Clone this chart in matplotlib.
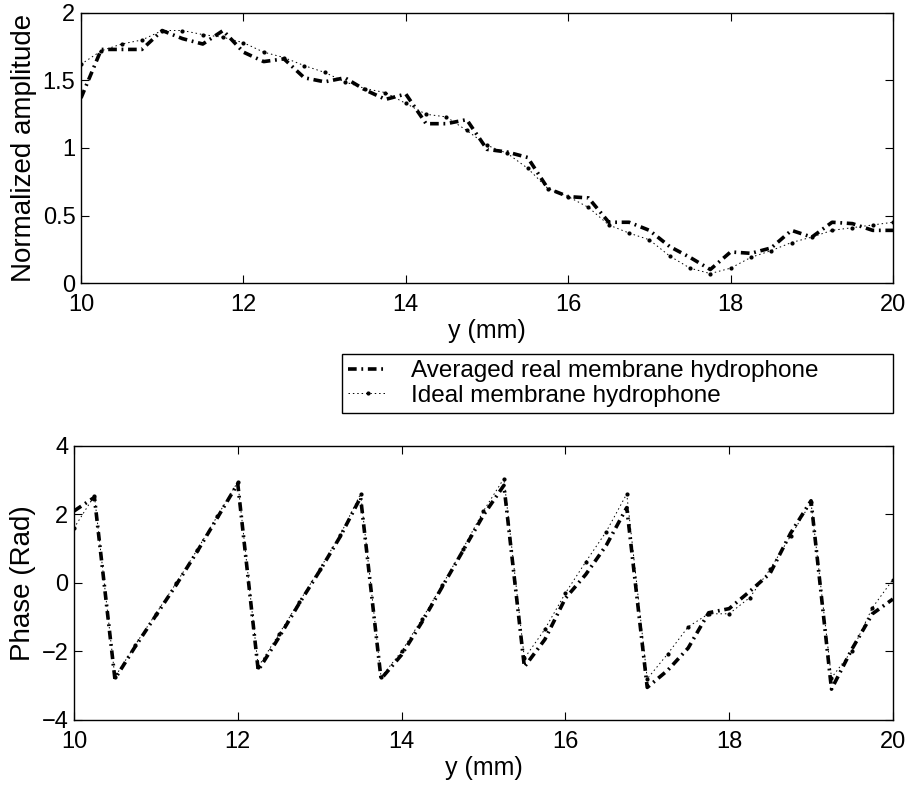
import numpy as np
import matplotlib
matplotlib.use("Agg")
import matplotlib.pyplot as plt

plt.rcParams['font.family'] = ['Liberation Sans', 'DejaVu Sans']

# y position (mm), 0.25 mm steps
y_mm = np.arange(10.0, 20.01, 0.25)

amp_real = [1.37, 1.73, 1.73, 1.73, 1.87, 1.81, 1.77, 1.87, 1.71, 1.64,
            1.66, 1.52, 1.49, 1.52, 1.43, 1.36, 1.40, 1.18, 1.18, 1.21,
            0.99, 0.97, 0.93, 0.70, 0.64, 0.63, 0.45, 0.45, 0.39, 0.27,
            0.19, 0.10, 0.23, 0.22, 0.26, 0.39, 0.34, 0.45, 0.44, 0.39,
            0.39]
amp_ideal = [1.62, 1.72, 1.77, 1.80, 1.87, 1.87, 1.84, 1.82, 1.78, 1.71,
             1.67, 1.61, 1.56, 1.49, 1.44, 1.41, 1.33, 1.25, 1.23, 1.13,
             1.02, 0.96, 0.85, 0.70, 0.64, 0.56, 0.43, 0.37, 0.32, 0.20,
             0.11, 0.07, 0.11, 0.19, 0.24, 0.30, 0.34, 0.39, 0.41, 0.43,
             0.45]

phase_real = [2.10, 2.50, -2.80, -1.85, -0.95, -0.05, 0.90, 1.90, 2.90, -2.55,
              -1.60, -0.60, 0.35, 1.35, 2.50, -2.80, -2.10, -1.14, -0.10, 0.94,
              1.98, 2.85, -2.45, -1.65, -0.45, 0.25, 1.10, 2.20, -3.05, -2.55,
              -1.90, -0.87, -0.75, -0.25, 0.28, 1.45, 2.40, -3.10, -1.93, -0.90,
              -0.47]
phase_ideal = [1.60, 2.55, -2.75, -1.80, -0.90, 0.00, 0.95, 1.95, 2.95, -2.45,
               -1.50, -0.55, 0.40, 1.40, 2.60, -2.75, -2.00, -1.05, -0.05, 1.00,
               2.10, 3.05, -2.20, -1.35, -0.30, 0.62, 1.50, 2.60, -2.80, -2.07,
               -1.28, -0.90, -0.90, -0.43, 0.40, 1.37, 2.35, -2.77, -1.98, -0.72,
               0.10]

labels = ['Averaged real membrane hydrophone', 'Ideal membrane hydrophone']

fig = plt.figure(figsize=(9.13, 7.91), dpi=100)
ax1 = fig.add_axes([0.0887, 0.6422, 0.8894, 0.3414])
ax2 = fig.add_axes([0.081, 0.0898, 0.897, 0.3464])

real_style = dict(color='black', lw=2.6, linestyle=(0, (2.4, 1.3, 0.5, 1.3)))
ideal_style = dict(color='black', lw=0.7, linestyle=(0, (1.5, 3)),
                   marker='.', markersize=4)

l1, = ax1.plot(y_mm, amp_real, **real_style)
l2, = ax1.plot(y_mm, amp_ideal, **ideal_style)
ax1.set_ylim(0, 2)
ax1.set_yticks([0, 0.5, 1, 1.5, 2])
ax1.set_yticklabels(['0', '0.5', '1', '1.5', '2'])
ax1.set_ylabel('Normalized amplitude', fontsize=20)

ax2.plot(y_mm, phase_real, **real_style)
ax2.plot(y_mm, phase_ideal, **ideal_style)
ax2.set_ylim(-4, 4)
ax2.set_yticks([-4, -2, 0, 2, 4])
ax2.set_yticklabels(['\u22124', '\u22122', '0', '2', '4'])
ax2.set_ylabel('Phase (Rad)', fontsize=20)

for ax in (ax1, ax2):
    ax.set_xlim(10, 20)
    ax.set_xticks([10, 12, 14, 16, 18, 20])
    ax.set_xlabel('y (mm)', fontsize=18, labelpad=2)
    ax.tick_params(direction='in', top=True, right=True, length=6,
                   width=0.8, labelsize=17, pad=4)
    ax.tick_params(axis='x', pad=8)
    for s in ax.spines.values():
        s.set_linewidth(1.0)

# legend box sits between the two axes, x 342..893 px, y 354..419 px
leg = fig.legend([l1, l2], labels, loc='upper left',
                 bbox_to_anchor=(0.3746, 0.4703, 0.6034, 0.0822),
                 mode='expand', fontsize=17.5,
                 fancybox=False, framealpha=1, edgecolor='black',
                 handlelength=1.6, handletextpad=1.0, labelspacing=0.1,
                 borderpad=0.25, borderaxespad=0)
leg.get_frame().set_linewidth(1.0)

fig.savefig('out.png', dpi=100)
